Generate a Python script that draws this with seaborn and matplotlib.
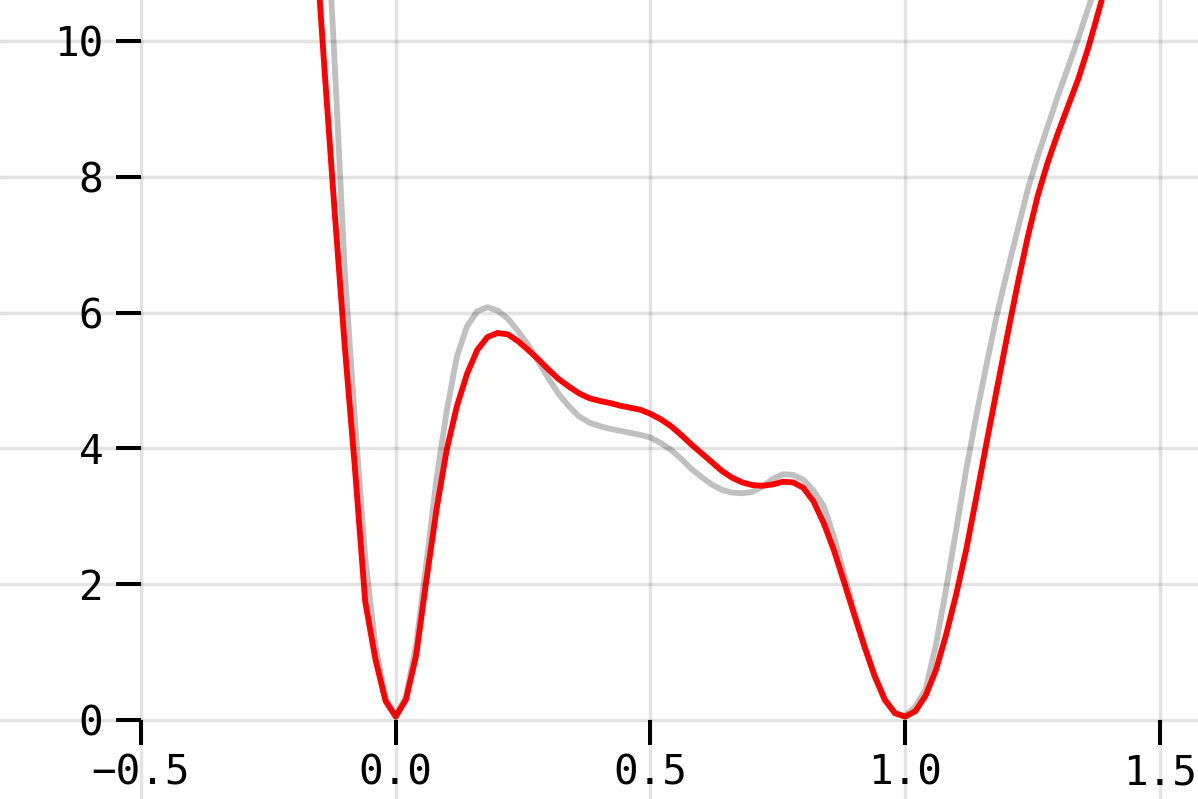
import numpy as np
import pandas as pd
import seaborn as sns
import matplotlib
matplotlib.use("Agg")
import matplotlib.pyplot as plt

# ---- data ----
x_values = [
    -0.16, -0.14, -0.12, -0.10, -0.08, -0.06, -0.04, -0.02, 0.00, 0.02,
    0.04, 0.06, 0.08, 0.10, 0.12, 0.14, 0.16, 0.18, 0.20, 0.22,
    0.24, 0.26, 0.28, 0.30, 0.32, 0.34, 0.36, 0.38, 0.40, 0.42,
    0.44, 0.46, 0.48, 0.50, 0.52, 0.54, 0.56, 0.58, 0.60, 0.62,
    0.64, 0.66, 0.68, 0.70, 0.72, 0.74, 0.76, 0.78, 0.80, 0.82,
    0.84, 0.86, 0.88, 0.90, 0.92, 0.94, 0.96, 0.98, 1.00, 1.02,
    1.04, 1.06, 1.08, 1.10, 1.12, 1.14, 1.16, 1.18, 1.20, 1.22,
    1.24, 1.26, 1.28, 1.30, 1.32, 1.34, 1.36, 1.38, 1.40,
]

gray_values = [
    15.0, 12.6, 9.7, 6.6, 4.4, 2.4, 1.1, 0.32, 0.05, 0.35,
    1.1, 2.3, 3.55, 4.55, 5.35, 5.80, 6.02, 6.08, 6.03, 5.91,
    5.73, 5.52, 5.28, 5.03, 4.80, 4.62, 4.47, 4.38, 4.33, 4.29,
    4.26, 4.23, 4.20, 4.16, 4.08, 3.98, 3.85, 3.70, 3.58, 3.47,
    3.39, 3.35, 3.34, 3.36, 3.44, 3.55, 3.62, 3.61, 3.54, 3.38,
    3.15, 2.70, 2.15, 1.60, 1.10, 0.63, 0.28, 0.10, 0.06, 0.20,
    0.45, 1.10, 1.92, 2.80, 3.70, 4.50, 5.25, 5.97, 6.60, 7.20,
    7.80, 8.30, 8.75, 9.20, 9.62, 10.05, 10.50, 10.95, 11.40,
]

red_values = [
    11.8, 9.6, 7.5, 5.5, 3.7, 1.75, 0.9, 0.28, 0.05, 0.30,
    0.95, 2.05, 3.1, 3.98, 4.62, 5.1, 5.45, 5.64, 5.70, 5.68,
    5.58, 5.45, 5.31, 5.16, 5.02, 4.91, 4.81, 4.74, 4.70, 4.67,
    4.63, 4.60, 4.57, 4.51, 4.43, 4.33, 4.20, 4.06, 3.93, 3.80,
    3.67, 3.57, 3.50, 3.46, 3.45, 3.47, 3.51, 3.50, 3.42, 3.22,
    2.90, 2.50, 2.03, 1.55, 1.08, 0.65, 0.30, 0.10, 0.05, 0.13,
    0.36, 0.73, 1.25, 1.85, 2.52, 3.30, 4.10, 4.88, 5.65, 6.40,
    7.10, 7.72, 8.22, 8.65, 9.05, 9.45, 9.92, 10.45, 11.00,
]

x_ticks = [-0.5, 0.0, 0.5, 1.0, 1.5]
y_ticks = [0, 2, 4, 6, 8, 10]

# ---- styling ----
sns.set_theme(style="white")
plt.rcParams["font.family"] = ["DejaVu Sans Mono", "DejaVu Sans"]

fig = plt.figure(figsize=(11.98, 7.99), dpi=100)
ax = fig.add_axes([0, 0, 1, 1])

df = pd.DataFrame({"x": x_values, "gray": gray_values, "red": red_values})
sns.lineplot(data=df, x="x", y="gray", color="#c0c0c0", linewidth=4.2, ax=ax,
             sort=False)
sns.lineplot(data=df, x="x", y="red", color="#ff0000", linewidth=4.2, ax=ax,
             sort=False)

ax.set_xlim(-0.7767, 1.5746)
ax.set_ylim(-1.163, 10.604)
ax.set_xticks(x_ticks)
ax.set_yticks(y_ticks)
ax.set_xticklabels(["\u22120.5", "0.0", "0.5", "1.0", "1.5"])
ax.set_yticklabels([str(v) for v in y_ticks])
ax.set_xlabel("")
ax.set_ylabel("")

ax.set_axisbelow(False)
ax.grid(True, color="black", alpha=0.11, linewidth=2.5)

for side in ["top", "right"]:
    ax.spines[side].set_visible(False)
ax.spines["left"].set_position(("data", -0.5))
ax.spines["bottom"].set_position(("data", 0))
ax.spines["left"].set_color("none")
ax.spines["bottom"].set_color("none")

ax.tick_params(axis="both", direction="out", length=18, width=2.9,
               color="black", labelsize=29.5, labelcolor="black", pad=6,
               bottom=True, left=True, top=False, right=False)
ax.tick_params(axis="y", pad=9)
ax.set_facecolor("white")

fig.savefig("out.png", dpi=100, facecolor="white")
